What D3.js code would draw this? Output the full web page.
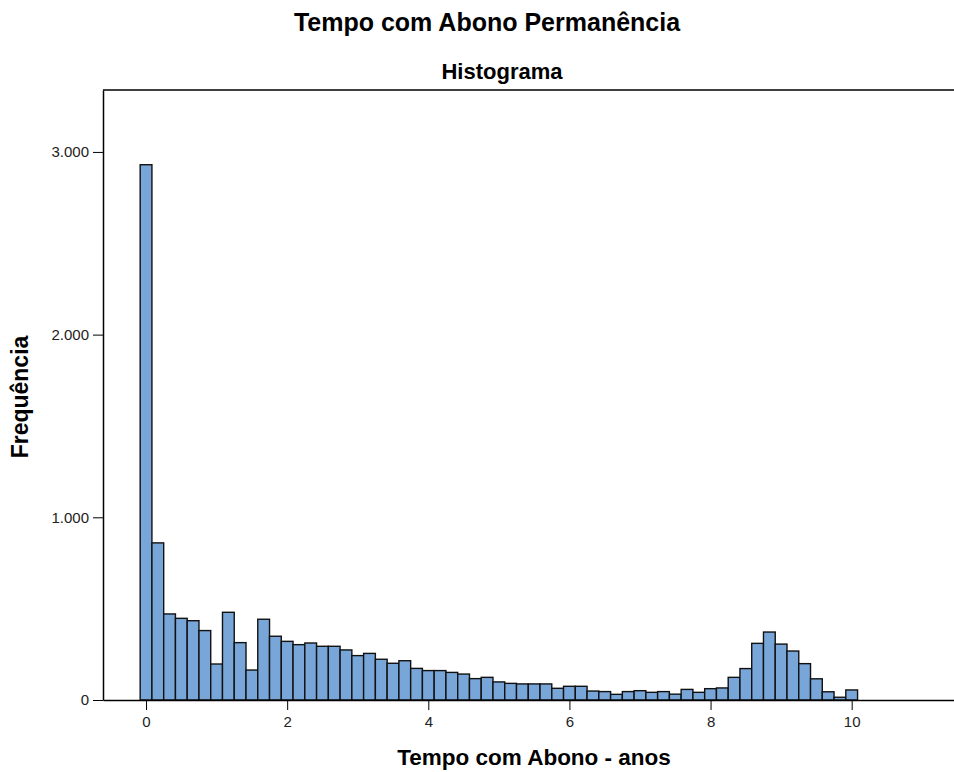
<!DOCTYPE html>
<html>
<head>
<meta charset="utf-8">
<script src="https://cdn.jsdelivr.net/npm/d3@7"></script>
<style>
  body { margin: 0; background: #fff; }
  text { font-family: "Liberation Sans", Arial, sans-serif; }
</style>
</head>
<body>
<script>
// histogram bins: width 1/6 year, centered on 0, 1/6, 2/6 ... 10
const binWidth = 1 / 6;
const firstBinStart = -1 / 12;

// frequency per bin
const freq = [
  2930, 860, 471, 447, 434, 380, 197, 480, 314, 164,
  442, 349, 321, 303, 312, 294, 294, 274, 243, 255,
  223, 201, 215, 173, 161, 161, 151, 142, 117, 124,
  99, 91, 88, 88, 88, 64, 75, 75, 49, 46,
  31, 46, 51, 42, 46, 32, 58, 42, 62, 66,
  124, 172, 310, 372, 306, 268, 199, 116, 45, 15,
  55
];

const xTicks = [0, 2, 4, 6, 8, 10];
const yTicks = [0, 1000, 2000, 3000];

const W = 954, H = 772;
const plot = { left: 103, top: 90, right: 954, bottom: 700 };

const svg = d3.select("body").append("svg")
  .attr("width", W)
  .attr("height", H);

const x = d3.scaleLinear()
  .domain([-0.61, 11.45])
  .range([plot.left, plot.right]);

const y = d3.scaleLinear()
  .domain([0, 3339])
  .range([plot.bottom, plot.top]);

const ptBR = d3.formatLocale({ decimal: ",", thousands: ".", grouping: [3], currency: ["R$", ""] });
const fmt = ptBR.format(",d");

// titles
svg.append("text")
  .attr("x", 487).attr("y", 31)
  .attr("text-anchor", "middle")
  .style("font-size", "25px").style("font-weight", "bold")
  .text("Tempo com Abono Permanência");

svg.append("text")
  .attr("x", 502).attr("y", 79)
  .attr("text-anchor", "middle")
  .style("font-size", "22px").style("font-weight", "bold")
  .text("Histograma");

// frame (top + left)
svg.append("line")
  .attr("x1", plot.left).attr("x2", plot.right)
  .attr("y1", plot.top).attr("y2", plot.top)
  .attr("stroke", "#000").attr("stroke-width", 1.5);

// bars
svg.append("g")
  .selectAll("rect")
  .data(freq)
  .join("rect")
  .attr("x", (d, i) => x(firstBinStart + i * binWidth))
  .attr("width", (d, i) => x(firstBinStart + (i + 1) * binWidth) - x(firstBinStart + i * binWidth))
  .attr("y", d => y(d))
  .attr("height", d => y(0) - y(d))
  .attr("fill", "#79a6d8")
  .attr("stroke", "#111")
  .attr("stroke-width", 1.4);

// x axis
const xAxis = svg.append("g")
  .attr("transform", `translate(0,${plot.bottom})`)
  .call(d3.axisBottom(x).tickValues(xTicks).tickSize(10).tickPadding(6).tickSizeOuter(0));
xAxis.select(".domain").attr("stroke", "#000").attr("stroke-width", 1.5);
xAxis.selectAll("text").style("font-size", "15px").attr("fill", "#222");

// y axis
const yAxis = svg.append("g")
  .attr("transform", `translate(${plot.left},0)`)
  .call(d3.axisLeft(y).tickValues(yTicks).tickFormat(fmt).tickSize(10).tickPadding(4).tickSizeOuter(0));
yAxis.select(".domain").attr("stroke", "#000").attr("stroke-width", 1.5);
yAxis.selectAll("text").style("font-size", "15px").attr("fill", "#222");

// axis titles
svg.append("text")
  .attr("x", 534).attr("y", 765)
  .attr("text-anchor", "middle")
  .style("font-size", "22.5px").style("font-weight", "bold")
  .text("Tempo com Abono - anos");

svg.append("text")
  .attr("transform", "translate(28,397) rotate(-90)")
  .attr("text-anchor", "middle")
  .style("font-size", "23px").style("font-weight", "bold")
  .text("Frequência");
</script>
</body>
</html>
